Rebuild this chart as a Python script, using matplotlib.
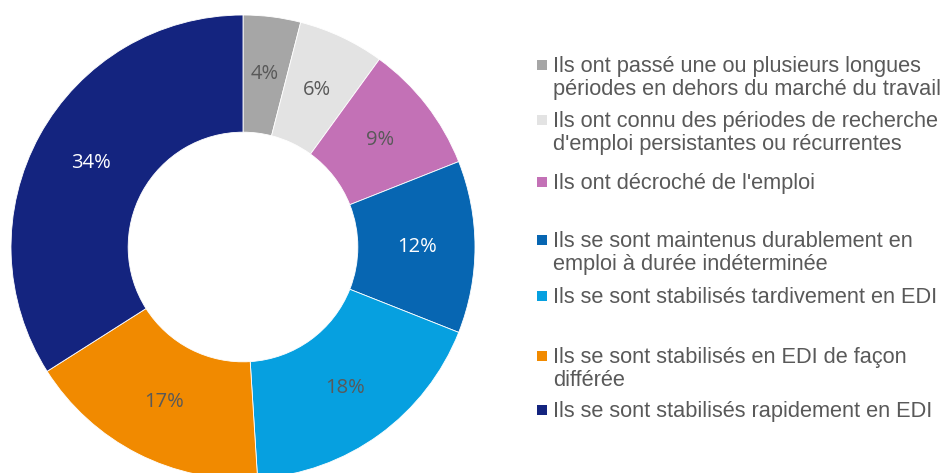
import matplotlib
matplotlib.use('Agg')
import matplotlib.pyplot as plt
from matplotlib.patches import Rectangle

# data, clockwise from the top
values = [4, 6, 9, 12, 18, 17, 34]
pct_labels = ['4%', '6%', '9%', '12%', '18%', '17%', '34%']
labels = [
    "Ils ont passé une ou plusieurs longues\npériodes en dehors du marché du travail",
    "Ils ont connu des périodes de recherche\nd'emploi persistantes ou récurrentes",
    "Ils ont décroché de l'emploi",
    "Ils se sont maintenus durablement en\nemploi à durée indéterminée",
    "Ils se sont stabilisés tardivement en EDI",
    "Ils se sont stabilisés en EDI de façon\ndifférée",
    "Ils se sont stabilisés rapidement en EDI",
]
colors = ['#a6a6a6', '#e3e3e3', '#c371b6', '#0766b2', '#06a0e0', '#f18a00', '#14247f']
pct_colors = ['#595959', '#595959', '#595959', 'white', '#595959', '#595959', 'white']

W, H = 948, 473
fig = plt.figure(figsize=(W / 100, H / 100), dpi=100)

# donut placed in pixel terms: centre (243, 247 from top), outer radius 232
cx, cy, R = 243, H - 247, 232
ax = fig.add_axes([(cx - R) / W, (cy - R) / H, 2 * R / W, 2 * R / H])
wedges, _, autotexts = ax.pie(values, startangle=90, counterclock=False, colors=colors,
                              radius=1, autopct='%d%%', pctdistance=0.75,
                              wedgeprops=dict(width=0.505, edgecolor='white', linewidth=0.6),
                              textprops=dict(fontsize=14.5, family='Open Sans'))
for t, s, c in zip(autotexts, pct_labels, pct_colors):
    t.set_text(s)
    t.set_color(c)
ax.set_xlim(-1, 1)
ax.set_ylim(-1, 1)
ax.set_aspect('equal')
ax.axis('off')

# legend drawn by hand to keep the uneven spacing
leg_y = [65, 120, 182, 240, 296, 356, 410]
for lab, col, y in zip(labels, colors, leg_y):
    fig.patches.append(Rectangle((537 / W, (H - y - 5) / H), 10 / W, 10 / H,
                                 transform=fig.transFigure, facecolor=col, edgecolor='none'))
    fig.text(553 / W, (H - y + 9) / H, lab, fontsize=15.7, family='Liberation Sans',
             color='#595959', va='top', ha='left', linespacing=1.13)

fig.savefig('out.png', dpi=100, facecolor='white')
